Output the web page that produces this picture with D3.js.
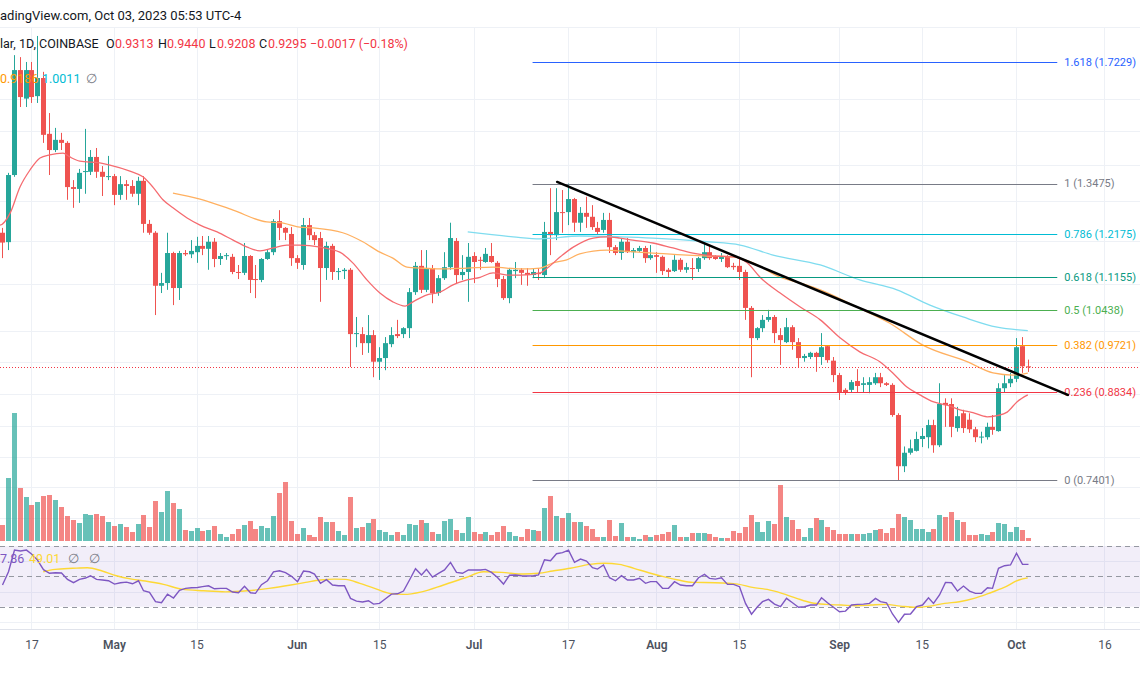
<!DOCTYPE html>
<html><head><meta charset="utf-8">
<script src="https://cdn.jsdelivr.net/npm/d3@7"></script>
<style>
html,body{margin:0;padding:0;background:#fff;}
svg{display:block;font-family:Roboto,"Liberation Sans",Arial,sans-serif;}
</style></head><body>
<svg id="chart" width="1140" height="694"></svg>
<script>
// ---------------- DATA ----------------
// daily candles, first candle = 2023-04-12
const firstCandle = "2023-04-12";
const opens = [1.220,1.197,1.371,1.695,1.600,1.695,1.608,1.668,1.490,1.442,
1.472,1.463,1.338,1.333,1.380,1.380,1.422,1.380,1.366,1.368,
1.317,1.346,1.341,1.320,1.355,1.242,1.220,1.096,1.102,1.171,
1.091,1.171,1.168,1.173,1.188,1.181,1.198,1.157,1.164,1.162,
1.127,1.125,1.164,1.111,1.109,1.157,1.173,1.249,1.232,1.217,
1.159,1.143,1.239,1.214,1.207,1.136,1.188,1.127,1.129,1.132,
0.994,0.994,0.976,0.992,0.940,0.947,0.974,0.994,0.994,1.006,
1.082,1.141,1.087,1.136,1.080,1.113,1.138,1.200,1.120,1.127,
1.164,1.155,1.150,1.164,1.148,1.111,1.069,1.129,1.132,1.125,
1.120,1.125,1.120,1.222,1.214,1.272,1.272,1.306,1.245,1.270,
1.260,1.232,1.227,1.252,1.185,1.171,1.198,1.173,1.176,1.183,
1.159,1.166,1.162,1.132,1.129,1.155,1.132,1.136,1.134,1.159,
1.173,1.162,1.157,1.162,1.141,1.141,1.127,1.048,0.986,1.006,
1.023,1.029,0.992,0.978,1.008,0.978,0.947,0.949,0.957,0.949,
0.970,0.942,0.915,0.888,0.888,0.904,0.897,0.897,0.900,0.911,
0.900,0.897,0.844,0.761,0.782,0.785,0.804,0.807,0.827,0.794,
0.865,0.863,0.822,0.847,0.836,0.820,0.807,0.807,0.824,0.817,
0.891,0.900,0.908,0.970,0.9313];
const highs = [1.232,1.377,1.747,1.740,1.723,1.723,1.816,1.689,1.554,1.508,
1.493,1.468,1.357,1.388,1.505,1.442,1.448,1.396,1.425,1.374,
1.368,1.357,1.357,1.366,1.368,1.252,1.224,1.125,1.220,1.174,
1.176,1.178,1.202,1.210,1.212,1.212,1.207,1.171,1.171,1.169,
1.143,1.195,1.166,1.143,1.159,1.178,1.254,1.277,1.234,1.234,
1.166,1.257,1.257,1.222,1.222,1.198,1.193,1.136,1.136,1.136,
1.029,1.008,1.033,1.002,0.968,0.988,1.008,1.023,1.008,1.091,
1.150,1.178,1.178,1.143,1.120,1.173,1.245,1.207,1.166,1.195,
1.173,1.162,1.183,1.195,1.152,1.118,1.136,1.150,1.136,1.136,
1.136,1.136,1.247,1.335,1.335,1.330,1.3475,1.309,1.285,1.312,
1.290,1.247,1.270,1.270,1.190,1.207,1.207,1.183,1.188,1.188,
1.190,1.173,1.165,1.136,1.166,1.159,1.148,1.159,1.162,1.195,
1.190,1.166,1.171,1.166,1.148,1.162,1.132,1.052,1.008,1.033,
1.044,1.033,1.006,1.027,1.012,0.986,0.955,0.959,0.959,0.996,
0.972,0.949,0.919,0.891,0.906,0.926,0.911,0.911,0.919,0.919,
0.902,0.900,0.847,0.792,0.803,0.816,0.822,0.836,0.836,0.900,
0.873,0.873,0.858,0.853,0.847,0.824,0.816,0.831,0.844,0.900,
0.915,0.919,0.986,0.988,0.9440];
const lows = [1.159,1.178,1.366,1.573,1.573,1.586,1.586,1.463,1.371,1.436,
1.442,1.304,1.283,1.296,1.320,1.371,1.363,1.314,1.357,1.290,
1.304,1.304,1.312,1.290,1.220,1.215,1.033,1.080,1.087,1.054,
1.065,1.164,1.159,1.148,1.166,1.132,1.138,1.143,1.155,1.122,
1.111,1.120,1.080,1.069,1.104,1.155,1.166,1.202,1.202,1.141,
1.134,1.132,1.202,1.190,1.061,1.109,1.109,1.109,1.111,0.930,
0.968,0.953,0.957,0.911,0.906,0.924,0.968,0.986,0.986,0.986,
1.076,1.080,1.082,1.058,1.074,1.109,1.132,1.102,1.109,1.061,
1.102,1.132,1.148,1.148,1.093,1.065,1.058,1.113,1.098,1.096,
1.113,1.109,1.113,1.166,1.202,1.220,1.239,1.222,1.222,1.232,
1.227,1.215,1.220,1.171,1.166,1.155,1.171,1.159,1.173,1.148,
1.155,1.125,1.120,1.115,1.127,1.127,1.125,1.109,1.127,1.155,
1.155,1.155,1.150,1.136,1.132,1.109,1.023,0.911,0.982,0.998,
1.019,0.976,0.934,0.976,0.963,0.930,0.940,0.945,0.921,0.934,
0.938,0.902,0.870,0.879,0.884,0.884,0.884,0.882,0.897,0.893,
0.895,0.841,0.7401,0.752,0.779,0.784,0.791,0.789,0.782,0.791,
0.824,0.807,0.816,0.814,0.814,0.799,0.797,0.803,0.811,0.816,
0.884,0.893,0.902,0.919,0.9208];
const closes = [1.196,1.371,1.695,1.605,1.695,1.605,1.668,1.487,1.442,1.472,
1.463,1.338,1.333,1.377,1.382,1.422,1.380,1.366,1.368,1.317,
1.346,1.341,1.320,1.355,1.242,1.220,1.096,1.102,1.171,1.091,
1.171,1.168,1.176,1.188,1.181,1.198,1.157,1.164,1.166,1.127,
1.125,1.164,1.109,1.109,1.157,1.173,1.249,1.232,1.220,1.159,
1.148,1.239,1.214,1.202,1.136,1.188,1.127,1.129,1.132,0.994,
0.996,0.976,0.992,0.940,0.947,0.976,0.992,0.990,1.006,1.082,
1.141,1.087,1.136,1.080,1.113,1.138,1.207,1.120,1.127,1.162,
1.150,1.154,1.169,1.150,1.111,1.069,1.132,1.132,1.125,1.120,
1.127,1.122,1.222,1.214,1.272,1.270,1.306,1.245,1.270,1.260,
1.234,1.222,1.252,1.185,1.171,1.198,1.173,1.178,1.183,1.159,
1.166,1.162,1.129,1.127,1.155,1.132,1.138,1.134,1.159,1.173,
1.159,1.157,1.164,1.138,1.138,1.127,1.048,0.986,1.006,1.023,
1.029,0.996,0.982,1.008,0.978,0.947,0.951,0.957,0.949,0.968,
0.943,0.915,0.884,0.884,0.902,0.895,0.900,0.902,0.911,0.900,
0.897,0.844,0.761,0.782,0.789,0.804,0.809,0.827,0.794,0.863,
0.861,0.824,0.842,0.822,0.820,0.807,0.808,0.824,0.819,0.891,
0.900,0.908,0.968,0.9313,0.9295];
// volume (millions)
const volumes = [1.6,6.3,12.8,5.3,4.4,3.6,3.9,4.5,4.6,4.1,
3.4,2.5,2.1,1.8,2.7,2.6,2.7,2.5,1.9,1.5,
1.7,1.4,0.9,1.7,2.6,1.4,4.0,2.9,5.0,3.8,
3.2,1.1,1.0,1.3,1.0,1.1,1.5,0.7,0.4,0.7,
1.2,1.6,2.0,1.2,1.5,1.3,2.5,4.8,5.9,2.0,
0.7,1.3,0.6,0.4,2.4,1.9,1.9,1.0,0.6,4.4,
1.3,1.4,1.8,2.2,1.1,0.9,0.6,0.9,0.6,1.7,
1.6,2.1,1.8,0.9,0.7,2.0,2.2,1.1,0.8,2.4,
0.9,0.7,0.9,0.6,0.9,1.5,0.9,0.5,0.4,1.2,
1.1,1.0,3.3,4.5,2.5,2.3,2.8,1.9,1.9,1.5,
1.2,0.4,0.4,2.1,0.5,1.8,0.4,0.4,0.2,0.6,
0.4,0.6,0.7,0.9,1.6,0.4,0.4,0.8,0.8,0.8,
0.7,0.4,0.3,0.3,1.0,0.8,1.4,2.6,1.9,0.9,
2.0,1.7,5.6,2.4,2.1,1.2,0.4,1.3,2.3,2.1,
1.4,1.1,0.7,0.7,0.7,0.7,0.7,0.8,1.1,1.2,
0.8,1.3,2.7,2.4,2.1,1.2,1.2,0.9,1.2,2.6,
2.4,2.9,2.1,1.9,0.6,0.6,0.7,0.6,0.9,1.8,
1.7,0.9,1.4,1.1,0.3];
// RSI(14) per candle
const rsiValues = [44.3,53.0,67.3,66.7,67.3,64.7,60.7,54.4,52.0,52.4,
52.2,48.0,45.8,48.0,48.9,50.4,48.0,47.6,47.1,44.9,
45.8,46.2,45.1,47.1,40.5,39.4,33.3,32.6,38.3,35.7,
40.8,42.1,42.5,42.7,43.2,43.8,41.8,42.1,42.1,39.7,
39.2,43.4,39.2,38.8,44.5,47.1,53.0,53.7,52.4,50.0,
46.5,53.5,53.0,51.5,45.4,47.8,44.3,43.8,43.8,35.5,
33.7,33.1,33.9,31.7,32.2,35.2,38.3,38.5,40.3,47.6,
55.0,50.9,54.6,49.5,52.0,54.2,59.2,52.6,52.0,54.2,
54.2,54.2,54.6,52.6,49.3,44.9,50.7,50.9,50.4,50.2,
50.4,50.9,60.9,60.3,64.9,65.6,67.3,59.2,61.4,60.1,
55.7,54.8,57.5,49.1,47.1,50.4,47.6,47.6,48.7,45.4,
46.5,46.5,42.1,42.1,46.5,44.3,43.8,43.8,49.1,51.3,
48.7,48.2,49.1,44.7,44.7,43.2,32.2,25.1,30.0,33.3,
34.8,31.7,30.0,35.5,32.6,29.6,30.0,31.1,31.1,35.9,
32.6,29.6,26.7,27.1,31.1,31.5,31.7,32.2,35.5,33.3,
32.6,25.2,19.7,25.0,25.2,30.0,31.1,35.9,32.2,37.7,
46.0,45.8,40.3,43.6,40.3,38.8,38.8,42.5,42.1,55.3,
57.0,57.5,65.2,57.9,57.86];

// Sampled indicator lines: [days after 2023-04-11, value]
const sampleOrigin = "2023-04-11";
const maRed = [[0.3,1.245],[0.66,1.239],[2.4,1.270],[4.05,1.338],[5.75,1.385],[7.45,1.419],[9.1,1.428],[11.35,1.433],[12.5,1.422],[14.2,1.410],[17.6,1.405],[19.3,1.399],[22.7,1.382],[24.9,1.366],[26.6,1.338],[28.3,1.304],[30,1.283],[32.4,1.257],[34.6,1.239],[37.5,1.222],[40.2,1.202],[42.6,1.185],[44.8,1.176],[47,1.183],[49.3,1.190],[51.5,1.190],[55,1.185],[58.3,1.173],[60.5,1.148],[62.9,1.109],[65.1,1.080],[67.3,1.061],[69.4,1.052],[70.7,1.061],[73.1,1.076],[75.3,1.082],[77.5,1.098],[79.9,1.109],[82.1,1.115],[84.3,1.125],[86.7,1.120],[88.9,1.120],[92.3,1.125],[93.5,1.136],[95.7,1.162],[97.9,1.185],[101.3,1.207],[103.6,1.210],[105.8,1.207],[108,1.202],[111.4,1.195],[114.8,1.183],[118.2,1.171],[121.6,1.164],[125,1.162],[127.4,1.148],[129.6,1.115],[133,1.080],[136.4,1.050],[139.8,1.023],[143.2,0.986],[146.5,0.959],[149.9,0.940],[152.1,0.919],[154.5,0.893],[156.7,0.879],[158.9,0.867],[161.3,0.861],[163.5,0.853],[165.7,0.848],[168.1,0.841],[169.8,0.843],[171.5,0.849],[173.2,0.867],[175,0.879]];
const maOrange = [[30,1.322],[34.6,1.306],[40.2,1.277],[45.9,1.247],[48.2,1.245],[51.5,1.234],[53.8,1.232],[58.8,1.220],[62.2,1.198],[65.1,1.173],[67.3,1.159],[69.7,1.138],[71.9,1.136],[75.3,1.134],[79.9,1.136],[84.3,1.138],[88.9,1.134],[92.3,1.136],[94.5,1.148],[96.8,1.155],[99,1.169],[103.6,1.178],[105.8,1.176],[111.4,1.171],[117.2,1.166],[120.6,1.164],[125,1.162],[128.4,1.148],[133,1.115],[136.9,1.100],[139.8,1.087],[146,1.050],[151.6,1.016],[157.2,0.972],[164.7,0.940],[169.1,0.919],[172.5,0.915],[175,0.9186]];
const maCyan = [[80,1.222],[87.7,1.210],[92.3,1.205],[99,1.212],[105.8,1.210],[111.4,1.207],[120.6,1.198],[126.2,1.190],[131.8,1.166],[139.8,1.143],[146.5,1.109],[152.8,1.087],[158.4,1.054],[164,1.029],[169.8,1.008],[175,1.0011]];
const rsiMA = [[8,53.0],[10,54.6],[13,55.3],[15.5,55.7],[18,53.5],[20.4,50.4],[23,48.2],[25.3,46.9],[28.4,44.7],[31.5,41.6],[35.2,40.5],[38.9,39.8],[42.6,40.5],[46.3,42.1],[50,44.3],[52.5,46.0],[55,47.6],[57.4,48.2],[59.3,48.0],[61.7,45.4],[64.2,42.1],[66.7,38.8],[69.1,38.1],[72.2,39.8],[75.9,44.3],[79.6,49.1],[82.7,53.0],[85.8,52.6],[89.5,51.5],[92,52.0],[94.4,53.5],[97.4,55.3],[100.7,57.9],[103.2,58.6],[105.7,57.9],[108.2,55.3],[110.7,52.4],[113.2,49.8],[115.7,47.6],[118.2,46.0],[122,45.8],[125.8,44.9],[128.3,42.7],[130.8,41.4],[133.3,38.8],[135.8,35.5],[138.3,32.6],[140.8,31.5],[143.4,31.1],[145.9,30.6],[148.4,31.1],[150.9,31.5],[153.4,30.4],[155.9,29.6],[158.4,30.4],[160.9,32.2],[163.4,33.3],[165.9,35.5],[168.4,38.8],[170.9,42.5],[173.5,47.6],[175,49.01]];

// Fibonacci retracement
const fibRatios = ["1.618","1","0.786","0.618","0.5","0.382","0.236","0"];
const fibPrices = [1.7229,1.3475,1.2175,1.1155,1.0438,0.9721,0.8834,0.7401];
const fibColors = ["#2962ff","#787b86","#00bcd4","#089981","#4caf50","#ff9800","#f23645","#787b86"];
const fibFrom = "2023-07-11", fibTo = "2023-10-08";
// trend line
const trendPoints = [["2023-07-15T04:00:00Z",1.352],["2023-10-09T19:00:00Z",0.879]];
const lastPrice = 0.9295;

// header / legend texts (as visible in the picture)
const headerLine = "adingView.com, Oct 03, 2023 05:53 UTC-4";
const symbolLine = "lar, 1D, COINBASE";
const ohlcLabels = ["O","H","L","C"];
const ohlcValues = ["0.9313","0.9440","0.9208","0.9295"];
const changeText = "\u22120.0017 (\u22120.18%)";
const maLegend = ["0.9186","1.0011"];
const rsiLegend = ["7.86","49.01"];

// axis ticks
const tickDates = ["2023-04-17","2023-05-01","2023-05-15","2023-06-01","2023-06-15","2023-07-01","2023-07-17","2023-08-01","2023-08-15","2023-09-01","2023-09-15","2023-10-01","2023-10-16"];
const tickLabels = ["17","May","15","Jun","15","Jul","17","Aug","15","Sep","15","Oct","16"];
const gridPrices = [1.6,1.5,1.4,1.3,1.2,1.1,1.0,0.94,0.88,0.825,0.775,0.73,0.685];
const rsiGrid = [60,40,20];

// ---------------- CHART ----------------
const W = 1140, H = 694;
const DAY = 864e5;
const t0 = Date.parse(firstCandle + "T00:00:00Z");
const s0 = Date.parse(sampleOrigin + "T00:00:00Z");
const sDate = d => new Date(s0 + d * DAY);
const candles = opens.map((o, k) => ({date: new Date(t0 + k * DAY), o, h: highs[k], l: lows[k], c: closes[k], v: volumes[k], r: rsiValues[k]}));

const x = d3.scaleUtc().domain([new Date(Date.UTC(2023,4,1)), new Date(Date.UTC(2023,9,1))]).range([114, 1016]);
const y = d3.scaleLog().domain([fibPrices[0], fibPrices[fibPrices.length-1]]).range([62, 480]);
const yv = d3.scaleLinear().domain([0, d3.max(volumes)]).range([541, 413]);
const yr = d3.scaleLinear().domain([30, 70]).range([606.7, 546]);

const UP = "#26a69a", DOWN = "#ef5350";
const col = d => d.c >= d.o ? UP : DOWN;

const svg = d3.select("#chart");
svg.append("rect").attr("width", W).attr("height", H).attr("fill", "#fff");
const defs = svg.append("defs");
defs.append("clipPath").attr("id", "mainClip").append("rect").attr("x", 0).attr("y", 27).attr("width", W).attr("height", 516);

// grid
const grid = svg.append("g").attr("stroke", "#eef1f6").attr("stroke-width", 1);
grid.selectAll(".gh").data(gridPrices).join("line")
  .attr("x1", 0).attr("x2", W).attr("y1", d => Math.round(y(d)) + 0.5).attr("y2", d => Math.round(y(d)) + 0.5);
grid.selectAll(".gv").data(tickDates).join("line")
  .attr("x1", d => Math.round(x(new Date(d + "T00:00:00Z"))) + 0.5).attr("x2", d => Math.round(x(new Date(d + "T00:00:00Z"))) + 0.5)
  .attr("y1", 27).attr("y2", 629);
grid.selectAll(".gr").data(rsiGrid).join("line")
  .attr("x1", 0).attr("x2", W).attr("y1", d => Math.round(yr(d)) + 0.5).attr("y2", d => Math.round(yr(d)) + 0.5);
svg.append("line").attr("x1", 0).attr("x2", W).attr("y1", 27.5).attr("y2", 27.5).attr("stroke", "#eef1f6");

// header text
const hdr = svg.append("g").attr("font-size", 13);
hdr.append("text").attr("x", 0).attr("y", 20).attr("fill", "#131722").text(headerLine);
const row2 = svg.append("g").attr("font-size", 12.5);
row2.append("text").attr("x", 0).attr("y", 48).attr("fill", "#131722").text(symbolLine);
const ohlcX = [[106,115],[158,167],[209,217],[259,268]];
ohlcLabels.forEach((lab, i) => {
  row2.append("text").attr("x", ohlcX[i][0]).attr("y", 48).attr("fill", "#131722").text(lab);
  row2.append("text").attr("x", ohlcX[i][1]).attr("y", 48).attr("fill", "#f23645").text(ohlcValues[i]);
});
row2.append("text").attr("x", 310).attr("y", 48).attr("fill", "#f23645").text(changeText);

// volume
const bx = d => Math.round(x(d.date));
svg.append("g").selectAll("rect").data(candles).join("rect")
  .attr("x", d => bx(d) - 2).attr("width", 5)
  .attr("y", d => yv(d.v)).attr("height", d => yv(0) - yv(d.v))
  .attr("fill", col).attr("fill-opacity", 0.7);

// candles
const main = svg.append("g").attr("clip-path", "url(#mainClip)");
const cg = main.append("g");
cg.selectAll("line").data(candles).join("line")
  .attr("x1", d => bx(d) + 0.5).attr("x2", d => bx(d) + 0.5)
  .attr("y1", d => y(d.h)).attr("y2", d => y(d.l)).attr("stroke", col).attr("stroke-width", 1);
cg.selectAll("rect").data(candles).join("rect")
  .attr("x", d => bx(d) - 2).attr("width", 5)
  .attr("y", d => y(Math.max(d.o, d.c)))
  .attr("height", d => Math.max(1, Math.abs(y(d.o) - y(d.c))))
  .attr("fill", col);

// moving averages
const maLine = d3.line().x(d => x(sDate(d[0]))).y(d => y(d[1])).curve(d3.curveMonotoneX);
main.append("path").datum(maCyan).attr("d", maLine).attr("fill", "none").attr("stroke", "#7fdcef").attr("stroke-width", 1.3);
main.append("path").datum(maOrange).attr("d", maLine).attr("fill", "none").attr("stroke", "#ffb060").attr("stroke-width", 1.3);
main.append("path").datum(maRed).attr("d", maLine).attr("fill", "none").attr("stroke", "#f56b70").attr("stroke-width", 1.3);

// MA legend row (drawn over candles)
const row3 = svg.append("g").attr("font-size", 12.5);
row3.append("text").attr("x", 0).attr("y", 83).attr("fill", "#ff9800").text(maLegend[0]);
row3.append("text").attr("x", 42).attr("y", 83).attr("fill", "#00bcd4").text(maLegend[1]);
row3.append("text").attr("x", 86).attr("y", 83).attr("fill", "#787b86").text("\u2205");

// fib levels
const fx1 = x(new Date(fibFrom + "T00:00:00Z")), fx2 = x(new Date(fibTo + "T00:00:00Z"));
const fib = svg.append("g");
fib.selectAll("line").data(fibPrices).join("line")
  .attr("x1", fx1).attr("x2", fx2).attr("y1", d => Math.round(y(d)) + 0.5).attr("y2", d => Math.round(y(d)) + 0.5)
  .attr("stroke", (d, i) => fibColors[i]).attr("stroke-width", 1);
fib.selectAll("text").data(fibPrices).join("text")
  .attr("x", fx2 + 7).attr("y", d => y(d)).attr("dy", "0.35em")
  .attr("font-size", 11).attr("fill", (d, i) => fibColors[i])
  .text((d, i) => `${fibRatios[i]} (${d.toFixed(4)})`);

// last price dotted line
svg.append("line").attr("x1", 0).attr("x2", W).attr("y1", Math.round(y(lastPrice)) + 0.5).attr("y2", Math.round(y(lastPrice)) + 0.5)
  .attr("stroke", "#f23645").attr("stroke-width", 1).attr("stroke-dasharray", "1,2");

// trend line
svg.append("line")
  .attr("x1", x(new Date(trendPoints[0][0]))).attr("y1", y(trendPoints[0][1]))
  .attr("x2", x(new Date(trendPoints[1][0]))).attr("y2", y(trendPoints[1][1]))
  .attr("stroke", "#000").attr("stroke-width", 2.5).attr("stroke-linecap", "round");

// RSI pane
svg.append("rect").attr("x", 0).attr("width", W).attr("y", yr(70)).attr("height", yr(30) - yr(70)).attr("fill", "rgba(126,87,194,0.1)");
svg.selectAll(".rl").data([70, 50, 30]).join("line")
  .attr("x1", 0).attr("x2", W).attr("y1", d => Math.round(yr(d)) + 0.5).attr("y2", d => Math.round(yr(d)) + 0.5)
  .attr("stroke", "#9598a1").attr("stroke-dasharray", "5,4").attr("stroke-width", 1);
svg.append("path").datum(rsiMA)
  .attr("d", d3.line().x(d => x(sDate(d[0]))).y(d => yr(d[1])).curve(d3.curveMonotoneX))
  .attr("fill", "none").attr("stroke", "#fdd835").attr("stroke-width", 1.4);
svg.append("path").datum(candles)
  .attr("d", d3.line().x(d => bx(d) + 0.5).y(d => yr(d.r)))
  .attr("fill", "none").attr("stroke", "#7e57c2").attr("stroke-width", 1.4);
const rl = svg.append("g").attr("font-size", 12.5);
rl.append("text").attr("x", 0).attr("y", 563).attr("fill", "#7e57c2").text(rsiLegend[0]);
rl.append("text").attr("x", 29).attr("y", 563).attr("fill", "#fdd835").text(rsiLegend[1]);
rl.append("text").attr("x", 68).attr("y", 563).attr("fill", "#787b86").text("\u2205");
rl.append("text").attr("x", 89).attr("y", 563).attr("fill", "#787b86").text("\u2205");

// time axis
svg.append("line").attr("x1", 0).attr("x2", W).attr("y1", 629.5).attr("y2", 629.5).attr("stroke", "#e0e3eb");
const xAxis = d3.axisBottom(x).tickValues(tickDates.map(d => new Date(d + "T00:00:00Z")))
  .tickFormat((d, i) => tickLabels[i]).tickSize(0).tickPadding(0);
const ax = svg.append("g").attr("transform", "translate(0,640)").call(xAxis);
ax.select(".domain").remove();
ax.selectAll("text").attr("font-size", 12).attr("fill", "#4c525e")
  .attr("font-family", "Roboto, 'Liberation Sans', Arial, sans-serif")
  .attr("font-weight", (d, i) => /^[A-Z]/.test(tickLabels[i]) ? 600 : 400);
</script></body></html>
